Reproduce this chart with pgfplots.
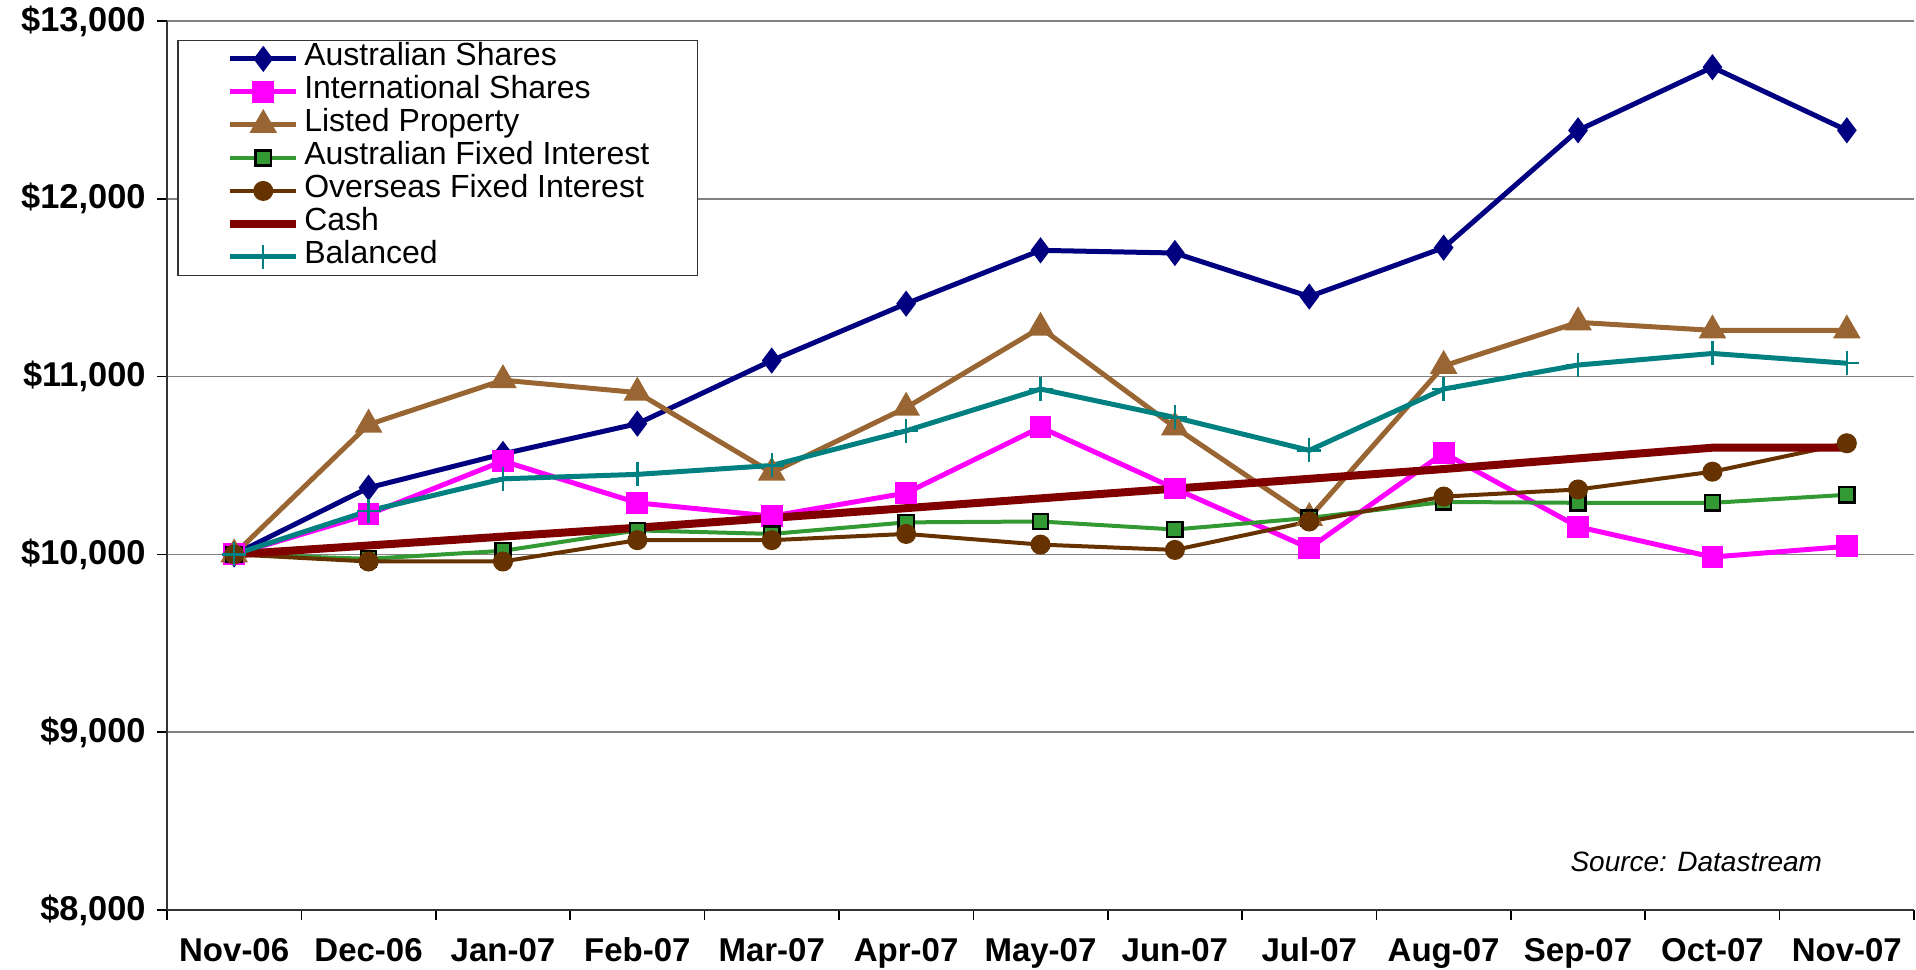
\documentclass[border=0pt]{standalone}
\usepackage{fontspec}
\setmainfont{Liberation Sans}
\usepackage{pgfplots}
\pgfplotsset{compat=1.18}

\definecolor{cNavy}{RGB}{0,0,128}
\definecolor{cMag}{RGB}{255,0,255}
\definecolor{cTan}{RGB}{153,102,51}
\definecolor{cGreen}{RGB}{51,153,51}
\definecolor{cBrown}{RGB}{102,51,0}
\definecolor{cCash}{RGB}{128,0,0}
\definecolor{cTeal}{RGB}{0,128,128}

\begin{document}
\begin{tikzpicture}
\begin{axis}[
    scale only axis,
    width=873.5pt, height=444.5pt,
    xmin=-0.5, xmax=12.5,
    ymin=8000, ymax=13000,
    xtick={-0.5,0.5,...,12.5},
    x tick label as interval,
    xticklabels={Nov-06,Dec-06,Jan-07,Feb-07,Mar-07,Apr-07,May-07,Jun-07,Jul-07,Aug-07,Sep-07,Oct-07,Nov-07},
    ytick={8000,9000,...,13000},
    yticklabel={\$\pgfmathprintnumber{\tick}},
    scaled y ticks=false,
    /pgf/number format/1000 sep={,},
    /pgf/number format/assume math mode=true,
    xticklabel style={font=\bfseries\fontsize{16.5}{18}\selectfont, yshift=-5.5pt},
    yticklabel style={font=\bfseries\fontsize{17.2}{18}\selectfont, xshift=-2.2pt},
    tick align=outside,
    major tick length=5pt,
    tick style={black, line width=0.8pt},
    axis x line*=bottom,
    axis y line*=left,
    axis line style={-, line width=1pt, black!80},
    ymajorgrids,
    grid style={gray, line width=0.8pt},
    legend cell align=left,
    legend image code/.code={\draw[mark repeat=2,mark phase=2,#1] plot coordinates {(0pt,0pt) (16.5pt,0pt) (33pt,0pt)};},
    legend style={at={(axis description cs:0.006,0.979)}, anchor=north west,
        draw=black!80, line width=0.8pt, fill=white,
        inner xsep=24pt, inner ysep=1pt,
        font=\fontsize{16}{16}\selectfont,
        row sep=0pt, column sep=2pt,
        nodes={inner sep=0pt, text height=11.5pt, text depth=5pt}},
]
\addplot[cNavy, line width=2.5pt, mark=diamond*, mark size=4.5pt, legend image post style={line width=2.5pt}] coordinates {
(0,10000) (1,10375) (2,10565) (3,10735) (4,11090) (5,11410) (6,11710) (7,11695) (8,11450) (9,11725) (10,12385) (11,12740) (12,12385)};
\addlegendentry{Australian Shares}
\addplot[cMag, line width=2.5pt, mark=square*, mark size=4.2pt, legend image post style={line width=2.5pt}] coordinates {
(0,10000) (1,10225) (2,10525) (3,10290) (4,10215) (5,10345) (6,10715) (7,10370) (8,10035) (9,10570) (10,10155) (11,9985) (12,10045)};
\addlegendentry{International Shares}
\addplot[cTan, line width=2.5pt, mark=triangle*, mark size=5.5pt, legend image post style={line width=2.5pt}] coordinates {
(0,10000) (1,10730) (2,10980) (3,10910) (4,10460) (5,10825) (6,11275) (7,10715) (8,10205) (9,11060) (10,11305) (11,11260) (12,11260)};
\addlegendentry{Listed Property}
\addplot[cGreen, line width=2pt, mark=square*, mark size=3.8pt, mark options={draw=black, fill=cGreen, line width=1.2pt}, legend image post style={line width=2pt}] coordinates {
(0,10000) (1,9975) (2,10020) (3,10135) (4,10115) (5,10180) (6,10185) (7,10140) (8,10205) (9,10295) (10,10290) (11,10290) (12,10335)};
\addlegendentry{Australian Fixed Interest}
\addplot[cBrown, line width=2pt, mark=*, mark size=4pt, legend image post style={line width=2pt}] coordinates {
(0,10000) (1,9960) (2,9960) (3,10080) (4,10080) (5,10115) (6,10055) (7,10025) (8,10185) (9,10325) (10,10365) (11,10465) (12,10625)};
\addlegendentry{Overseas Fixed Interest}
\addplot[cCash, line width=4pt, mark=none, legend image post style={line width=4pt}] coordinates {
(0,10000) (1,10050) (2,10100) (3,10150) (4,10205) (5,10260) (6,10315) (7,10370) (8,10425) (9,10480) (10,10540) (11,10600) (12,10600)};
\addlegendentry{Cash}
\addplot[cTeal, line width=2.5pt, mark=+, mark size=6pt, mark options={line width=1.2pt}, legend image post style={line width=2.5pt}] coordinates {
(0,10000) (1,10245) (2,10425) (3,10450) (4,10500) (5,10695) (6,10930) (7,10770) (8,10585) (9,10930) (10,11065) (11,11130) (12,11075)};
\addlegendentry{Balanced}
\node[font=\itshape\fontsize{14}{16}\selectfont] at (axis cs:10.88,8270) {Source: Datastream};
\coordinate (sw) at (rel axis cs:0,0);
\coordinate (ne) at (rel axis cs:1,1);
\end{axis}
\pgfresetboundingbox
\path ([xshift=-83.5pt,yshift=-30pt]sw) rectangle ([xshift=1pt,yshift=10.5pt]ne);
\end{tikzpicture}
\end{document}
